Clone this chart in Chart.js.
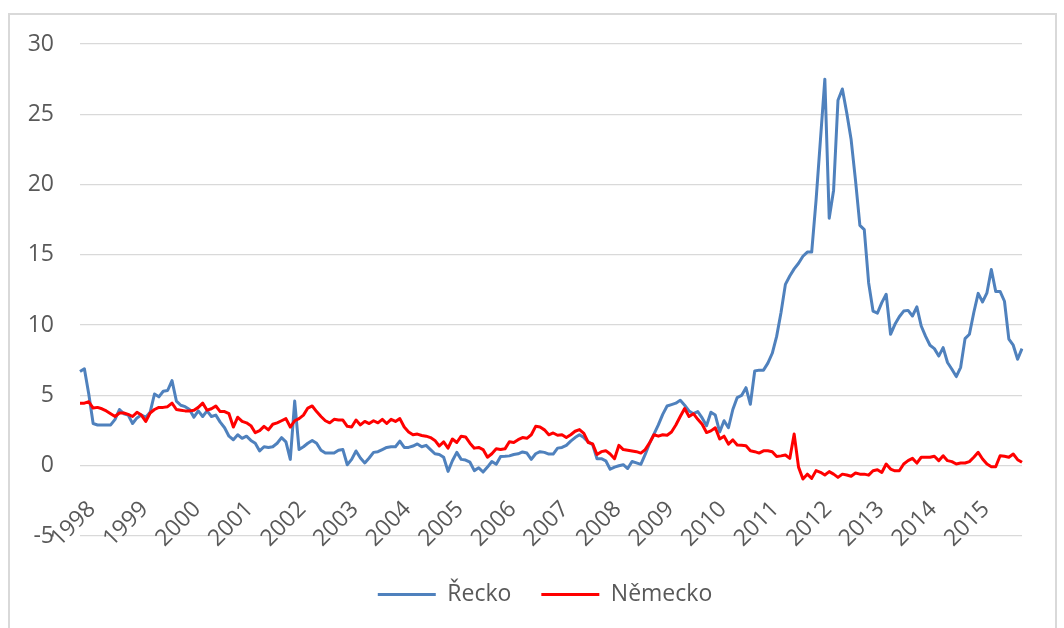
<!DOCTYPE html>
<html>
<head>
<meta charset="utf-8">
<title>Řecko a Německo</title>
<script src="https://cdn.jsdelivr.net/npm/chart.js"></script>
<style>
  html, body { margin: 0; padding: 0; background: #ffffff; }
  #wrap { width: 1064px; height: 628px; position: relative; }
  canvas { display: block; }
</style>
</head>
<body>
<div id="wrap"><canvas id="chart" width="1064" height="628"></canvas></div>
<script>
// Year tick labels (one per January)
const yearTicks = ['1998', '1999', '2000', '2001', '2002', '2003', '2004', '2005', '2006',
                   '2007', '2008', '2009', '2010', '2011', '2012', '2013', '2014', '2015'];

// Monthly categories, January 1998 – December 2015
const months = yearTicks.flatMap(y =>
  ['01', '02', '03', '04', '05', '06', '07', '08', '09', '10', '11', '12'].map(m => y + '-' + m));

// Řecko – monthly values
const recko = [
  6.7, 6.9, 5.1, 3.0, 2.9, 2.9, 2.9, 2.9, 3.3, 4.0,
  3.7, 3.6, 3.0, 3.4, 3.6, 3.45, 3.8, 5.1, 4.9, 5.3,
  5.35, 6.05, 4.6, 4.3, 4.2, 4.0, 3.45, 3.9, 3.5, 3.9,
  3.5, 3.6, 3.1, 2.7, 2.1, 1.85, 2.2, 1.95, 2.1, 1.8,
  1.6, 1.05, 1.35, 1.3, 1.35, 1.6, 2.0, 1.7, 0.45, 4.6,
  1.15, 1.35, 1.6, 1.8, 1.6, 1.1, 0.9, 0.9, 0.9, 1.1,
  1.15, 0.07, 0.45, 1.05, 0.55, 0.2, 0.55, 0.95, 1.0, 1.15,
  1.3, 1.35, 1.35, 1.75, 1.3, 1.3, 1.4, 1.55, 1.35, 1.45,
  1.15, 0.85, 0.8, 0.6, -0.4, 0.35, 0.95, 0.45, 0.4, 0.25,
  -0.35, -0.15, -0.45, -0.1, 0.3, 0.1, 0.65, 0.67, 0.7, 0.8,
  0.85, 0.98, 0.9, 0.45, 0.85, 1.0, 0.95, 0.83, 0.83, 1.25,
  1.3, 1.45, 1.75, 2.0, 2.2, 2.0, 1.7, 1.5, 0.5, 0.5,
  0.35, -0.25, -0.1, 0.0, 0.07, -0.2, 0.3, 0.2, 0.1, 0.8,
  1.6, 2.25, 2.9, 3.65, 4.25, 4.35, 4.45, 4.65, 4.3, 3.9,
  3.7, 3.85, 3.4, 2.84, 3.8, 3.6, 2.4, 3.2, 2.7, 4.0,
  4.85, 5.0, 5.55, 4.37, 6.74, 6.8, 6.8, 7.3, 8.0, 9.2,
  10.9, 12.9, 13.5, 14.0, 14.4, 14.9, 15.2, 15.2, 18.9, 23.2,
  27.5, 17.6, 19.6, 26.0, 26.8, 25.1, 23.2, 20.3, 17.1, 16.8,
  13.0, 11.0, 10.85, 11.6, 12.2, 9.35, 10.06, 10.6, 11.0, 11.05,
  10.65, 11.3, 9.94, 9.2, 8.57, 8.33, 7.8, 8.4, 7.34, 6.86,
  6.34, 7.0, 9.04, 9.35, 10.9, 12.26, 11.65, 12.3, 13.96, 12.4,
  12.4, 11.7, 9.0, 8.57, 7.57, 8.33
];

// Německo – monthly values
const nemecko = [
  4.45, 4.45, 4.55, 4.1, 4.15, 4.05, 3.9, 3.7, 3.5, 3.75,
  3.75, 3.65, 3.5, 3.8, 3.6, 3.15, 3.75, 4.0, 4.15, 4.15,
  4.2, 4.45, 4.0, 3.95, 3.9, 3.9, 3.95, 4.15, 4.45, 3.95,
  4.05, 4.25, 3.85, 3.85, 3.7, 2.75, 3.45, 3.15, 3.05, 2.85,
  2.35, 2.5, 2.8, 2.55, 2.95, 3.05, 3.2, 3.35, 2.75, 3.2,
  3.35, 3.6, 4.1, 4.25, 3.85, 3.5, 3.2, 3.05, 3.3, 3.25,
  3.25, 2.8, 2.75, 3.25, 2.9, 3.15, 3.0, 3.2, 3.05, 3.3,
  3.0, 3.3, 3.15, 3.35, 2.75, 2.4, 2.2, 2.25, 2.15, 2.1,
  2.0, 1.8, 1.4, 1.7, 1.25, 1.9, 1.65, 2.1, 2.05, 1.6,
  1.25, 1.3, 1.15, 0.6, 0.85, 1.2, 1.15, 1.2, 1.7, 1.65,
  1.85, 2.0, 1.95, 2.2, 2.8, 2.75, 2.55, 2.2, 2.33, 2.17,
  2.2, 2.0, 2.2, 2.45, 2.57, 2.3, 1.65, 1.55, 0.8, 1.0,
  1.07, 0.83, 0.5, 1.45, 1.15, 1.1, 1.05, 1.0, 0.9, 1.15,
  1.62, 2.2, 2.1, 2.2, 2.17, 2.4, 2.9, 3.5, 4.07, 3.5,
  3.7, 3.3, 2.95, 2.36, 2.48, 2.7, 1.9, 2.1, 1.54, 1.84,
  1.47, 1.45, 1.42, 1.06, 1.0, 0.9, 1.06, 1.06, 1.0, 0.66,
  0.7, 0.76, 0.52, 2.25, -0.1, -0.95, -0.6, -0.9, -0.35, -0.47,
  -0.66, -0.42, -0.6, -0.83, -0.6, -0.66, -0.75, -0.52, -0.6, -0.6,
  -0.67, -0.36, -0.29, -0.48, 0.12, -0.24, -0.36, -0.36, 0.12, 0.36,
  0.52, 0.19, 0.6, 0.6, 0.6, 0.67, 0.36, 0.71, 0.36, 0.29,
  0.12, 0.19, 0.19, 0.29, 0.6, 0.95, 0.48, 0.12, -0.07, -0.07,
  0.71, 0.67, 0.6, 0.83, 0.43, 0.24
];

const textColor = '#595959';
const gridColor = '#d9d9d9';
const baseFont = { family: '"Open Sans", "DejaVu Sans", sans-serif', size: 23 };

// Light frame around the whole chart
const framePlugin = {
  id: 'frame',
  beforeDraw(chart) {
    const ctx = chart.ctx;
    ctx.save();
    ctx.strokeStyle = gridColor;
    ctx.lineWidth = 2;
    ctx.strokeRect(9, 14, 1047, 700);
    ctx.restore();
  }
};

new Chart(document.getElementById('chart'), {
  type: 'line',
  data: {
    labels: months,
    datasets: [
      {
        label: 'Řecko',
        data: recko,
        borderColor: '#4f81bd',
        backgroundColor: '#4f81bd',
        borderWidth: 3,
        pointRadius: 0,
        tension: 0,
        borderJoinStyle: 'round',
        order: 2
      },
      {
        label: 'Německo',
        data: nemecko,
        borderColor: '#ff0000',
        backgroundColor: '#ff0000',
        borderWidth: 3,
        pointRadius: 0,
        tension: 0,
        borderJoinStyle: 'round',
        order: 1
      }
    ]
  },
  options: {
    responsive: false,
    animation: false,
    devicePixelRatio: 1,
    layout: { padding: { top: 44, right: 0, bottom: 12, left: 26 } },
    scales: {
      x: {
        type: 'category',
        position: 'bottom',
        offset: false,
        grid: { display: false, drawTicks: false },
        border: { display: false },
        ticks: { display: false },
        afterFit(scale) { scale.height = 17; }
      },
      years: {
        type: 'category',
        axis: 'x',
        position: { y: 0 },
        offset: false,
        // tick marks are hidden; their length only pushes the year labels below the zero line
        grid: { display: false, drawTicks: true, tickLength: 30 },
        border: { display: false },
        ticks: {
          autoSkip: false,
          minRotation: 45,
          maxRotation: 45,
          padding: 0,
          labelOffset: 12,
          color: textColor,
          font: baseFont,
          callback: (value, index) => (index % 12 === 0 ? yearTicks[index / 12] : '')
        }
      },
      y: {
        type: 'linear',
        position: 'left',
        min: -5,
        max: 30,
        grid: { color: gridColor, lineWidth: 1.3, drawTicks: false },
        border: { display: false },
        ticks: { stepSize: 5, padding: 26, color: textColor, font: baseFont },
        afterFit(scale) { scale.width = 54; }
      },
      spacer: {
        type: 'linear',
        position: 'right',
        grid: { display: false, drawTicks: false },
        border: { display: false },
        ticks: { display: false },
        afterFit(scale) { scale.width = 42; }
      }
    },
    plugins: {
      legend: {
        position: 'bottom',
        labels: {
          usePointStyle: true,
          pointStyle: 'line',
          pointStyleWidth: 58,
          padding: 30,
          color: textColor,
          font: baseFont,
          sort: (a, b) => a.datasetIndex - b.datasetIndex
        }
      },
      tooltip: { enabled: false }
    }
  },
  plugins: [framePlugin]
});
</script>
</body>
</html>
